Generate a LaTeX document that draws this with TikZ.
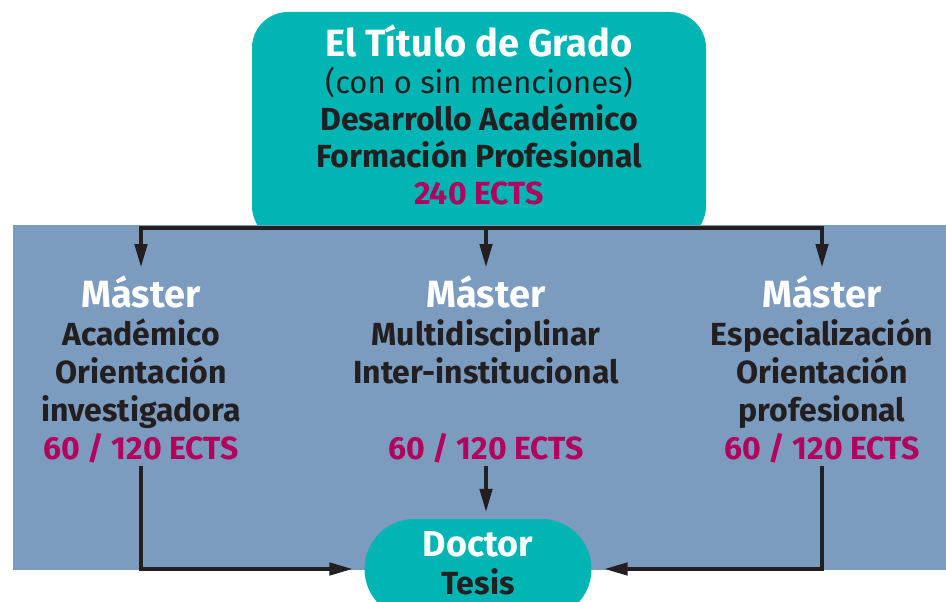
\documentclass[tikz,border=0pt]{standalone}
\usepackage{fontspec}
\setmainfont{Fira Sans}
\usepackage{xcolor}
\usepackage{tikz}
\usetikzlibrary{positioning,arrows.meta}

\definecolor{gradoteal}{HTML}{00B5B3}
\definecolor{bandblue}{HTML}{7B9BBF}
\definecolor{ectsred}{HTML}{B3005E}
\definecolor{inkdark}{HTML}{231F20}

\begin{document}
\begin{tikzpicture}[x=1pt, y=-1pt,
    box/.style={rectangle, rounded corners=36pt, fill=gradoteal},
    boxtext/.style={align=center, text=inkdark, inner sep=0pt,
        font=\bfseries\fontsize{32}{37}\selectfont},
    master/.style={anchor=north, align=center, text=inkdark, inner sep=2pt,
        font=\bfseries\fontsize{32}{38}\selectfont},
    arrow/.style={-{Triangle[length=24pt,width=12pt]}, line width=4.5pt, draw=inkdark}
]
    \useasboundingbox (0,0) rectangle (946,602);

    \node[box, minimum width=454pt, minimum height=230pt] (grado) at (479,127) {};
    \node[boxtext] (gradotext) at (479,115)
        {{\color{white}\fontsize{38}{37}\selectfont El Título de Grado}\\
         {\mdseries\fontsize{31}{37}\selectfont (con o sin menciones)}\\
         Desarrollo Académico\\
         Formación Profesional\\
         {\color{ectsred}240 ECTS}};

    \fill[bandblue] (13,225) rectangle (946,570);

    \node[master] (acad) at (141,274)
        {{\color{white}\fontsize{38}{38}\selectfont Máster}\\
         Académico\\ Orientación\\ investigadora\\
         {\color{ectsred}60 / 120 ECTS}};
    \node[master] (multi) at (486,274)
        {{\color{white}\fontsize{38}{38}\selectfont Máster}\\
         Multidisciplinar\\ Inter-institucional\\ \mbox{}\\
         {\color{ectsred}60 / 120 ECTS}};
    \node[master] (espec) at (822,274)
        {{\color{white}\fontsize{38}{38}\selectfont Máster}\\
         Especialización\\ Orientación\\ profesional\\
         {\color{ectsred}60 / 120 ECTS}};

    \node[box, rounded corners=50pt, minimum width=227pt, minimum height=100pt] (doctor) at (478,569) {};
    \node[boxtext, font=\bfseries\fontsize{32}{38}\selectfont] (doctortext) at (478,563)
        {{\color{white}\fontsize{36}{38}\selectfont Doctor}\\ Tesis};

    % split under the Grado box
    \coordinate (split) at (486,228);
    \draw[arrow, shorten >=6pt] (split) -| (acad.north);
    \draw[arrow, shorten >=6pt] (split) -| (espec.north);
    \draw[arrow, shorten >=6pt] (split) -- (multi.north);

    % into the Doctor box
    \draw[arrow, shorten >=11pt] (acad.south) |- (doctor.west);
    \draw[arrow, shorten >=12pt] (espec.south) |- (doctor.east);
    \draw[arrow, shorten >=6pt] (multi.south) -- (multi.south |- doctor.north);
\end{tikzpicture}
\end{document}
